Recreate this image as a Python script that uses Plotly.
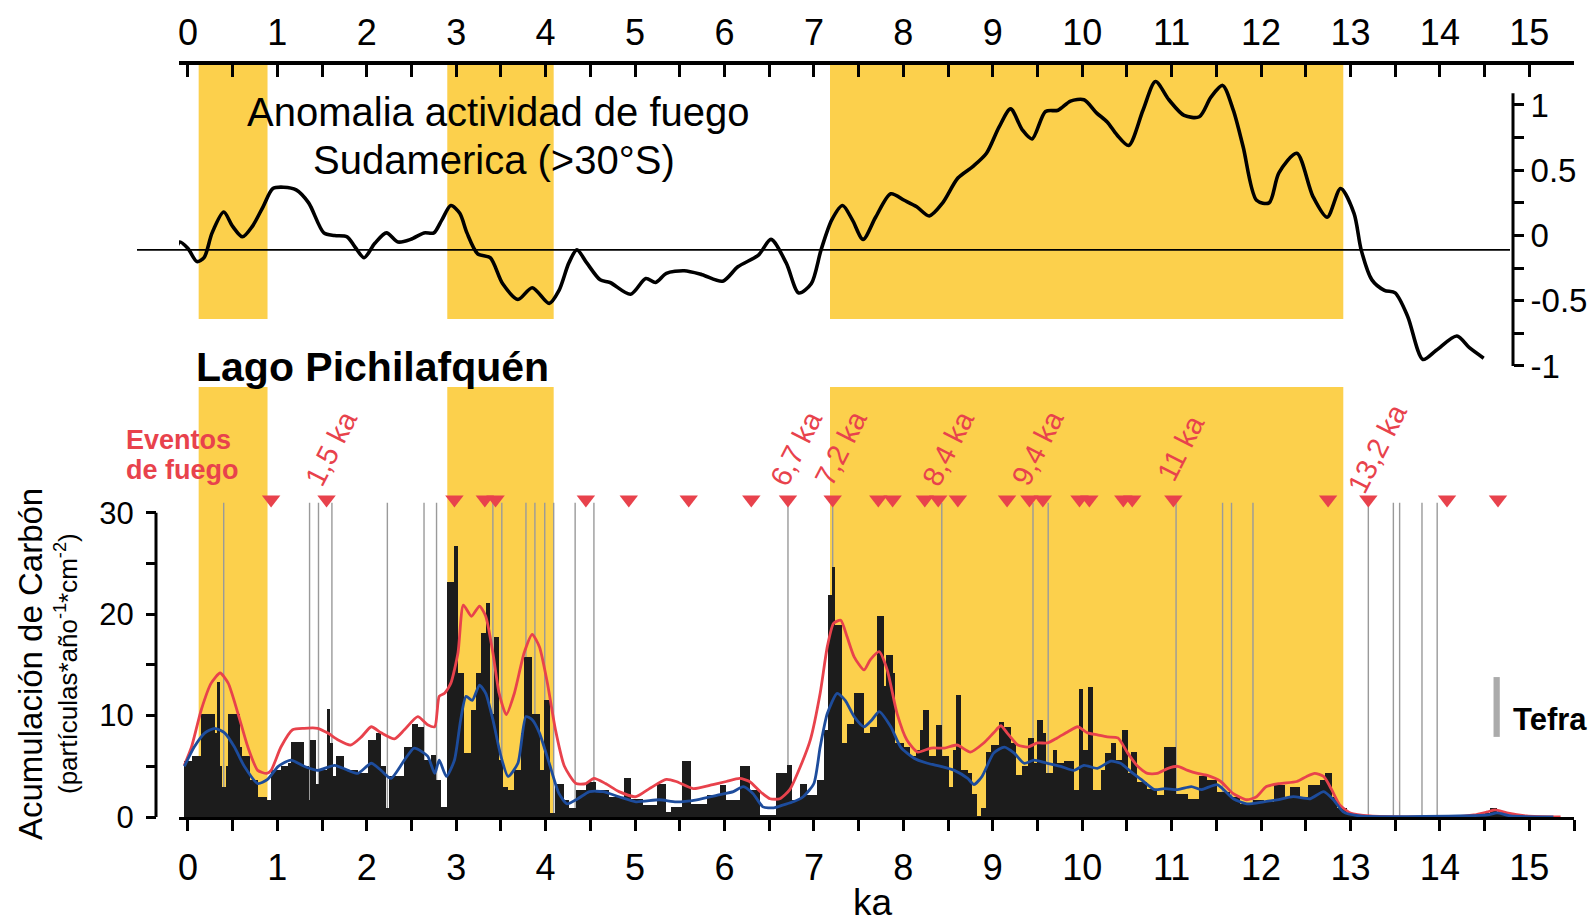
import numpy as np
import plotly.graph_objects as go

# ---------------- data ----------------
# Top panel: fire activity anomaly, South America (>30°S)
anom_age = [-0.16, -0.09, 0.0, 0.10, 0.18, 0.27, 0.40, 0.50, 0.61, 0.72,
            0.84, 0.95, 1.07, 1.21, 1.35, 1.52, 1.64, 1.78, 1.87, 1.97,
            2.09, 2.22, 2.35, 2.49, 2.64, 2.75, 2.84, 2.94, 3.04, 3.12,
            3.24, 3.38, 3.52, 3.69, 3.85, 4.04, 4.15, 4.26, 4.35, 4.46,
            4.61, 4.72, 4.95, 5.12, 5.23, 5.35, 5.55, 5.75, 5.98, 6.15,
            6.38, 6.52, 6.69, 6.83, 6.97, 7.08, 7.20, 7.32, 7.43, 7.55,
            7.69, 7.86, 8.01, 8.15, 8.29, 8.44, 8.61, 8.78, 8.93, 9.07,
            9.20, 9.33, 9.44, 9.59, 9.73, 9.87, 10.02, 10.16, 10.28, 10.39,
            10.52, 10.68, 10.82, 10.97, 11.14, 11.31, 11.44, 11.57, 11.69, 11.80,
            11.95, 12.09, 12.20, 12.40, 12.58, 12.74, 12.89, 13.04, 13.12, 13.24,
            13.38, 13.50, 13.64, 13.81, 13.96, 14.19, 14.33, 14.49]
anom_val = [-0.17, -0.05, -0.10, -0.20, -0.17, 0.02, 0.18, 0.07, -0.01, 0.07,
            0.22, 0.36, 0.37, 0.35, 0.25, 0.02, 0.0, -0.01, -0.09, -0.17,
            -0.06, 0.02, -0.05, -0.03, 0.02, 0.02, 0.12, 0.23, 0.17, 0.02,
            -0.14, -0.17, -0.37, -0.49, -0.40, -0.52, -0.42, -0.21, -0.11, -0.21,
            -0.34, -0.36, -0.45, -0.33, -0.36, -0.29, -0.27, -0.30, -0.35, -0.24,
            -0.15, -0.03, -0.21, -0.44, -0.37, -0.11, 0.12, 0.23, 0.12, -0.03,
            0.14, 0.32, 0.27, 0.22, 0.15, 0.25, 0.44, 0.53, 0.63, 0.83,
            0.97, 0.81, 0.74, 0.95, 0.96, 1.03, 1.04, 0.94, 0.87, 0.77,
            0.69, 0.96, 1.18, 1.04, 0.92, 0.91, 1.06, 1.15, 0.96, 0.68,
            0.27, 0.25, 0.48, 0.63, 0.30, 0.14, 0.36, 0.17, -0.11, -0.34,
            -0.42, -0.44, -0.62, -0.95, -0.88, -0.77, -0.86, -0.94]
anom_reference = -0.11

# Bottom panel: charcoal accumulation, Lago Pichilafquén (bin start ages, ka)
charcoal_age = [-0.04, 0.04, 0.15, 0.30, 0.33, 0.36, 0.38, 0.42, 0.45, 0.58,
                0.61, 0.69, 0.78, 0.88, 0.93, 1.04, 1.12, 1.15, 1.30, 1.35,
                1.37, 1.43, 1.47, 1.55, 1.59, 1.62, 1.66, 1.75, 1.90, 2.01,
                2.10, 2.16, 2.22, 2.25, 2.42, 2.50, 2.57, 2.64, 2.72, 2.77,
                2.83, 2.90, 2.98, 3.02, 3.09, 3.17, 3.22, 3.28, 3.33, 3.38,
                3.42, 3.48, 3.52, 3.58, 3.65, 3.72, 3.76, 3.85, 3.94, 3.98,
                4.05, 4.11, 4.20, 4.26, 4.34, 4.45, 4.56, 4.71, 4.88, 4.95,
                5.09, 5.24, 5.35, 5.40, 5.52, 5.63, 5.80, 5.95, 6.02, 6.17,
                6.28, 6.40, 6.58, 6.70, 6.75, 6.85, 6.92, 7.03, 7.11, 7.16,
                7.20, 7.24, 7.31, 7.37, 7.45, 7.56, 7.63, 7.71, 7.78, 7.81,
                7.88, 7.91, 8.01, 8.08, 8.14, 8.19, 8.22, 8.29, 8.36, 8.43,
                8.51, 8.55, 8.59, 8.64, 8.72, 8.77, 8.82, 8.87, 8.92, 8.98,
                9.07, 9.13, 9.20, 9.26, 9.33, 9.39, 9.46, 9.50, 9.56, 9.59,
                9.67, 9.72, 9.80, 9.91, 9.96, 10.01, 10.06, 10.12, 10.21, 10.25,
                10.32, 10.38, 10.44, 10.51, 10.55, 10.61, 10.73, 10.84, 10.92, 11.05,
                11.18, 11.31, 11.40, 11.51, 11.65, 11.76, 11.91, 12.03, 12.14, 12.27,
                12.32, 12.44, 12.53, 12.66, 12.72, 12.79, 12.85, 12.96, 13.11, 14.50,
                14.56, 14.64, 14.72]
charcoal_age_end = 15.30
charcoal = [5.5, 6.0, 10.2, 8.3, 13.3, 5.0, 3.0, 5.0, 10.2, 6.9,
            6.0, 3.7, 2.0, 1.7, 4.6, 5.0, 5.3, 7.4, 5.0, 1.7,
            7.6, 3.3, 4.6, 10.7, 7.3, 4.0, 6.0, 4.6, 4.3, 7.6,
            8.3, 5.0, 0.9, 4.0, 6.9, 9.2, 8.9, 5.6, 6.1, 3.7,
            1.0, 23.2, 26.7, 14.2, 6.3, 10.6, 14.2, 18.1, 21.1, 10.2,
            17.8, 5.6, 3.0, 2.7, 4.6, 8.3, 15.8, 10.2, 4.6, 11.5,
            0.4, 3.3, 1.7, 0.9, 2.7, 3.5, 2.7, 2.0, 3.8, 1.8,
            1.2, 3.3, 0.5, 1.0, 5.5, 1.3, 2.2, 3.2, 1.7, 5.0,
            2.7, 0.2, 4.3, 5.1, 1.7, 3.3, 2.2, 3.7, 8.6, 21.9,
            24.7, 18.9, 7.3, 9.2, 12.2, 8.3, 8.9, 19.8, 12.9, 16.0,
            14.2, 7.3, 6.9, 6.0, 6.6, 8.6, 10.6, 6.0, 9.1, 6.0,
            3.0, 6.6, 12.0, 4.6, 4.3, 2.3, 0.1, 0.9, 6.4, 7.1,
            9.4, 8.9, 7.3, 4.1, 5.0, 7.8, 5.3, 9.6, 8.3, 4.3,
            6.6, 5.3, 5.5, 2.7, 12.6, 6.6, 12.8, 2.7, 4.6, 6.3,
            7.3, 5.6, 8.6, 4.3, 6.4, 3.5, 2.8, 2.2, 6.9, 2.3,
            1.8, 4.0, 3.7, 2.5, 2.0, 1.3, 1.7, 1.5, 3.2, 2.0,
            3.0, 2.0, 3.2, 3.7, 4.3, 2.0, 0.9, 0.2, 0.1, 0.4,
            0.9, 0.4, 0.1]

# Background (red) and smoothed (blue) series
red_age = [-0.04, 0.04, 0.15, 0.26, 0.36, 0.45, 0.56, 0.67, 0.78, 0.88,
           0.93, 1.04, 1.17, 1.30, 1.45, 1.56, 1.68, 1.82, 1.94, 2.05,
           2.16, 2.31, 2.42, 2.57, 2.68, 2.76, 2.81, 2.87, 2.94, 3.02,
           3.08, 3.17, 3.26, 3.33, 3.41, 3.48, 3.56, 3.65, 3.76, 3.85,
           3.93, 4.02, 4.11, 4.21, 4.34, 4.45, 4.54, 4.67, 4.82, 5.01,
           5.16, 5.35, 5.46, 5.65, 5.87, 6.02, 6.17, 6.28, 6.40, 6.51,
           6.62, 6.73, 6.85, 6.96, 7.07, 7.15, 7.22, 7.30, 7.37, 7.45,
           7.56, 7.63, 7.73, 7.82, 7.93, 8.04, 8.16, 8.31, 8.46, 8.60,
           8.75, 8.90, 9.01, 9.09, 9.16, 9.28, 9.39, 9.50, 9.61, 9.72,
           9.84, 9.95, 10.06, 10.17, 10.28, 10.40, 10.51, 10.62, 10.73, 10.84,
           10.96, 11.07, 11.18, 11.29, 11.40, 11.55, 11.69, 11.84, 11.95, 12.06,
           12.21, 12.40, 12.51, 12.60, 12.70, 12.79, 12.88, 13.00, 13.22, 14.15,
           14.38, 14.53, 14.62, 14.75, 14.97, 15.35]
red_val = [5.1, 6.9, 10.6, 13.2, 14.2, 13.2, 10.2, 6.9, 4.6, 4.3,
           4.6, 6.9, 8.6, 8.75, 8.75, 8.3, 7.6, 7.1, 7.9, 8.9,
           8.3, 7.7, 8.6, 9.9, 9.1, 8.9, 11.9, 12.2, 13.2, 16.2,
           20.9, 19.8, 20.8, 19.8, 16.2, 12.2, 10.1, 12.2, 16.2, 18.0,
           16.8, 13.2, 8.6, 5.0, 3.3, 3.3, 3.8, 3.3, 2.5, 2.0,
           2.8, 3.7, 3.5, 2.8, 3.2, 3.5, 3.8, 3.5, 2.5, 1.8,
           1.8, 2.7, 5.0, 7.6, 12.2, 16.8, 19.1, 19.4, 17.8, 15.8,
           14.5, 15.5, 16.3, 14.5, 10.2, 7.6, 6.4, 6.8, 6.8, 7.1,
           6.4, 7.3, 8.3, 9.0, 8.3, 7.1, 6.9, 7.3, 7.3, 7.8,
           8.4, 8.9, 8.3, 8.1, 7.9, 7.8, 6.3, 5.0, 4.3, 4.3,
           4.8, 5.0, 4.6, 4.3, 4.1, 3.5, 2.3, 1.7, 2.0, 3.0,
           3.3, 3.5, 4.0, 4.3, 4.0, 2.7, 1.2, 0.4, 0.1, 0.0,
           0.2, 0.5, 0.7, 0.4, 0.1, 0.0]
blue_age = [-0.04, 0.07, 0.19, 0.30, 0.41, 0.52, 0.63, 0.78, 0.89, 1.01,
            1.15, 1.30, 1.45, 1.64, 1.79, 1.90, 2.05, 2.16, 2.27, 2.42,
            2.53, 2.68, 2.76, 2.81, 2.89, 2.98, 3.05, 3.11, 3.18, 3.26,
            3.33, 3.41, 3.50, 3.58, 3.69, 3.78, 3.85, 3.93, 4.04, 4.15,
            4.24, 4.36, 4.49, 4.64, 4.82, 5.01, 5.27, 5.46, 5.69, 5.95,
            6.10, 6.21, 6.32, 6.43, 6.55, 6.66, 6.77, 6.88, 7.00, 7.07,
            7.15, 7.26, 7.35, 7.45, 7.56, 7.65, 7.73, 7.86, 7.97, 8.12,
            8.27, 8.42, 8.57, 8.72, 8.79, 8.88, 9.01, 9.13, 9.24, 9.35,
            9.46, 9.61, 9.76, 9.91, 10.02, 10.17, 10.32, 10.43, 10.54, 10.66,
            10.81, 10.92, 11.07, 11.22, 11.33, 11.51, 11.69, 11.84, 12.03, 12.18,
            12.36, 12.55, 12.70, 12.81, 12.92, 13.11, 14.53, 14.64, 14.79, 15.27]
blue_val = [5.0, 6.9, 8.3, 8.75, 8.3, 6.9, 5.0, 3.3, 3.7, 5.0,
            5.6, 5.0, 4.6, 5.1, 4.6, 4.3, 5.3, 4.6, 3.8, 5.6,
            6.8, 6.0, 4.3, 5.6, 4.0, 5.6, 9.6, 11.9, 11.5, 13.0,
            12.2, 9.6, 6.0, 4.0, 5.3, 9.9, 9.6, 8.3, 5.3, 2.3,
            1.3, 1.8, 2.5, 2.5, 2.0, 1.5, 1.7, 1.5, 1.7, 2.2,
            2.5, 3.0, 2.3, 1.0, 0.9, 1.2, 1.5, 2.0, 3.3, 6.9,
            10.2, 12.2, 11.5, 9.9, 8.9, 9.6, 10.4, 8.9, 6.9, 5.8,
            5.3, 5.0, 4.6, 3.8, 3.2, 4.0, 6.3, 6.9, 6.3, 5.3,
            5.6, 5.3, 5.0, 4.6, 5.1, 4.8, 5.5, 5.3, 4.5, 3.7,
            2.7, 2.8, 2.7, 3.0, 2.7, 3.2, 1.8, 1.3, 1.5, 1.7,
            2.0, 1.8, 2.5, 1.7, 0.5, 0.1, 0.2, 0.4, 0.1, 0.0]

# Fire events (triangles), peak ages (grey lines), labelled events
fire_events = [0.93, 1.55, 2.98, 3.32, 3.44, 4.45, 4.93, 5.60, 6.30, 6.71,
               7.21, 7.72, 7.88, 8.24, 8.39, 8.61, 9.16, 9.41, 9.56, 9.97,
               10.08, 10.46, 10.56, 11.02, 12.75, 13.20, 14.08, 14.65]
peak_lines = [0.40, 1.36, 1.46, 1.61, 2.23, 2.64, 2.78, 3.41, 3.51, 3.78,
              3.88, 3.99, 4.09, 4.33, 4.54, 6.71, 7.21, 8.43, 9.45, 9.62,
              11.05, 11.57, 11.67, 11.91, 13.20, 13.48, 13.55, 13.80, 13.97]
event_label_age = [1.5, 6.7, 7.2, 8.4, 9.4, 11.0, 13.2]
event_label_text = ["1,5 ka", "6,7 ka", "7,2 ka", "8,4 ka", "9,4 ka", "11 ka", "13,2 ka"]

# Highlighted periods (ka)
band_start = [0.12, 2.90, 7.18]
band_end = [0.89, 4.09, 12.92]

x_ticks = [i * 0.5 for i in range(32)]
x_ticklabels = [str(int(v)) if v == int(v) else "" for v in x_ticks]

# ---------------- layout helpers ----------------
W, H = 1596, 924
FONT = "Liberation Sans, Arial, sans-serif"
RED = "#e8424c"
BLUE = "#1d4c9c"
YELLOW = "#fcd04c"


def py(px):
    return 1 - px / H


def pxx(px):
    return px / W


XDOM = [pxx(179), pxx(1574)]
Y1_RANGE = [0, 43]
Y1_DOM = [py(817), py(817 - 43 * 10.14)]
Y2_RANGE = [-1.05, 1.35]
Y2_DOM = [py(235.5 + 1.05 * 130.5), py(235.5 - 1.35 * 130.5)]

fig = go.Figure()

edges = np.array(charcoal_age + [charcoal_age_end])
widths = np.diff(edges)
fig.add_trace(go.Bar(x=charcoal_age, y=charcoal, width=widths, offset=0,
                     marker=dict(color="#1c1c1c", line=dict(width=0)),
                     xaxis="x", yaxis="y", showlegend=False))
fig.add_trace(go.Scatter(x=red_age, y=red_val, mode="lines",
                         line=dict(color=RED, width=2.8, shape="spline", smoothing=0.6),
                         xaxis="x", yaxis="y", showlegend=False))
fig.add_trace(go.Scatter(x=blue_age, y=blue_val, mode="lines",
                         line=dict(color=BLUE, width=2.8, shape="spline", smoothing=0.6),
                         xaxis="x", yaxis="y", showlegend=False))
fig.add_trace(go.Scatter(x=fire_events, y=[31.3] * len(fire_events), mode="markers",
                         marker=dict(symbol="triangle-down", size=16, color=RED,
                                     line=dict(width=0)),
                         cliponaxis=False, xaxis="x", yaxis="y", showlegend=False))

fig.add_trace(go.Scatter(x=anom_age, y=anom_val, mode="lines",
                         line=dict(color="black", width=3.6, shape="spline", smoothing=0.8),
                         xaxis="x2", yaxis="y2", showlegend=False))

shapes = []
for s, e in zip(band_start, band_end):
    shapes.append(dict(type="rect", xref="x", yref="paper", x0=s, x1=e,
                       y0=py(817), y1=py(387), fillcolor=YELLOW, line=dict(width=0),
                       layer="below"))
    shapes.append(dict(type="rect", xref="x", yref="paper", x0=s, x1=e,
                       y0=py(319), y1=py(63), fillcolor=YELLOW, line=dict(width=0),
                       layer="below"))
for a in peak_lines:
    shapes.append(dict(type="line", xref="x", yref="y", x0=a, x1=a, y0=0, y1=31,
                       line=dict(color="#9a9a9a", width=1.4), layer="below"))
shapes.append(dict(type="line", xref="paper", yref="y2", x0=pxx(137), x1=pxx(1510),
                   y0=anom_reference, y1=anom_reference, line=dict(color="black", width=1.6)))
shapes.append(dict(type="line", xref="paper", yref="y", x0=pxx(156), x1=pxx(156),
                   y0=0, y1=30, line=dict(color="black", width=3)))
shapes.append(dict(type="line", xref="paper", yref="y2", x0=pxx(1513), x1=pxx(1513),
                   y0=-1, y1=1.09, line=dict(color="black", width=3)))
shapes.append(dict(type="rect", xref="x", yref="y", x0=14.60, x1=14.67, y0=7.9, y1=13.8,
                   fillcolor="#ababab", line=dict(width=0)))


def ann(text, x, y, size, color="black", xanchor="center", angle=0, xref="paper", yref="paper", xshift=0):
    return dict(text=text, x=x, y=y, xref=xref, yref=yref, xanchor=xanchor, yanchor="middle",
                textangle=angle, showarrow=False, xshift=xshift,
                font=dict(size=size, family=FONT, color=color))


annotations = [
    ann("Anomalia actividad de fuego", pxx(498), py(112), 40),
    ann("Sudamerica (>30°S)", pxx(494), py(160), 40),
    ann("<b>Lago Pichilafquén</b>", pxx(194), py(367), 41, xanchor="left"),
    ann("<b>Eventos</b>", pxx(124), py(440), 27, color=RED, xanchor="left"),
    ann("<b>de fuego</b>", pxx(124), py(470), 27, color=RED, xanchor="left"),
    ann("<b>Tefra</b>", pxx(1511), py(719), 31, xanchor="left"),
    ann("ka", pxx(873), py(902), 37),
    ann("Acumulación de Carbón", pxx(30), py(664), 33, angle=-90),
    ann("(partículas*año<sup>-1</sup>*cm<sup>-2</sup>)", pxx(66), py(664), 26, angle=-90),
]
for a, t in zip(event_label_age, event_label_text):
    annotations.append(ann(t, a, 36.4, 29, color=RED, angle=-63, xref="x", yref="y", xshift=9))

axis_common = dict(showgrid=False, zeroline=False, linecolor="black", tickcolor="black",
                   automargin=False, tickfont=dict(size=36, family=FONT, color="black"))

fig.update_layout(
    width=W, height=H, autosize=False,
    margin=dict(l=0, r=0, t=0, b=0, pad=0, autoexpand=False),
    paper_bgcolor="white", plot_bgcolor="rgba(0,0,0,0)",
    bargap=0, showlegend=False,
    xaxis=dict(domain=XDOM, range=[-0.1, 15.5], anchor="y", tickmode="array",
               tickvals=x_ticks, ticktext=x_ticklabels, ticks="outside", ticklen=11,
               tickwidth=3, showline=True, linewidth=3, ticklabelstandoff=6, **axis_common),
    yaxis=dict(domain=Y1_DOM, range=Y1_RANGE, anchor="free", position=pxx(156),
               tickmode="array", tickvals=[0, 5, 10, 15, 20, 25, 30],
               ticktext=["0", "", "10", "", "20", "", "30"], ticks="outside", ticklen=10,
               tickwidth=3, showline=False, ticklabelstandoff=6,
               **{**axis_common, "tickfont": dict(size=31, family=FONT, color="black")}),
    xaxis2=dict(domain=XDOM, range=[-0.1, 15.5], anchor="free", position=py(63), side="top",
                tickmode="array", tickvals=x_ticks, ticktext=x_ticklabels, ticks="inside",
                ticklen=12, tickwidth=3, showline=True, linewidth=3.5, ticklabelstandoff=2,
                **axis_common),
    yaxis2=dict(domain=Y2_DOM, range=Y2_RANGE, anchor="free", position=pxx(1513), side="right",
                tickmode="array", tickvals=[-1, -0.75, -0.5, -0.25, 0, 0.25, 0.5, 0.75, 1],
                ticktext=["-1", "", "-0.5", "", "0", "", "0.5", "", "1"], ticks="outside",
                ticklen=10, tickwidth=3, showline=False, ticklabelstandoff=0,
                **{**axis_common, "tickfont": dict(size=33, family=FONT, color="black")}),
    shapes=shapes,
    annotations=annotations,
)

fig.write_html("out.html")
